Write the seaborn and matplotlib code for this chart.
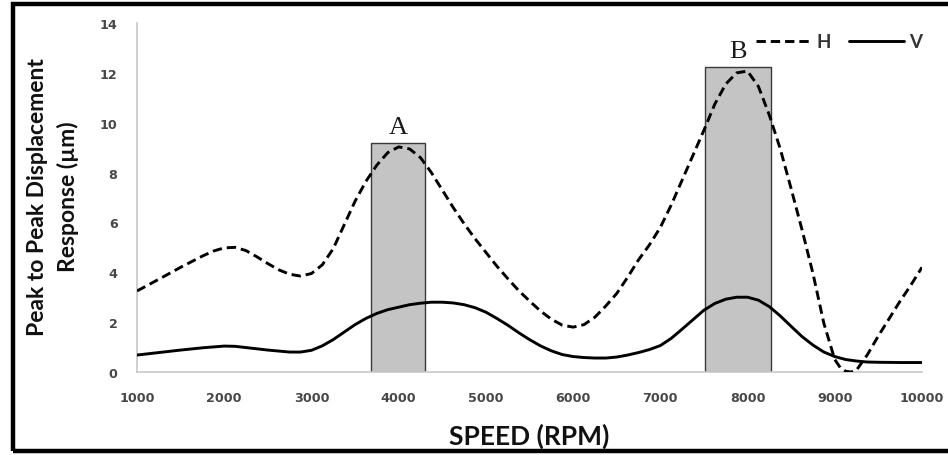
import numpy as np
import pandas as pd
import matplotlib
matplotlib.use("Agg")
import matplotlib.pyplot as plt
from matplotlib.lines import Line2D
from matplotlib.patches import Rectangle
import seaborn as sns

# ---------------- data ----------------
h_speed = [1000, 1250, 1500, 1750, 1875, 2000, 2125, 2250, 2375, 2500,
           2625, 2750, 2875, 3000, 3125, 3250, 3375, 3500, 3625, 3750,
           3875, 4000, 4125, 4250, 4375, 4500, 4625, 4750, 4875, 5000,
           5125, 5250, 5375, 5500, 5625, 5750, 5875, 6000, 6125, 6250,
           6375, 6500, 6625, 6750, 6875, 7000, 7125, 7250, 7375, 7500,
           7625, 7750, 7875, 8000, 8125, 8250, 8375, 8500, 8625, 8750,
           8875, 9000, 9062, 9125, 9187, 9250, 9375, 9500, 9625, 9750,
           9875, 10000]
h_resp = [3.25, 3.72, 4.2, 4.65, 4.85, 4.98, 5.0, 4.87, 4.62, 4.35,
          4.1, 3.92, 3.85, 3.95, 4.3, 4.95, 5.9, 6.85, 7.65, 8.3,
          8.8, 9.03, 8.95, 8.6, 8.0, 7.3, 6.6, 5.95, 5.35, 4.8,
          4.25, 3.75, 3.27, 2.85, 2.45, 2.12, 1.88, 1.8, 1.9, 2.2,
          2.65, 3.15, 3.8, 4.5, 5.1, 5.8, 6.7, 7.7, 8.7, 9.7,
          10.75, 11.55, 12.0, 12.07, 11.45, 10.3, 8.95, 7.35, 5.7, 3.95,
          1.95, 0.5, 0.18, 0.03, 0.0, 0.08, 0.7, 1.45, 2.15, 2.85,
          3.5, 4.2]

v_speed = [1000, 1250, 1500, 1750, 2000, 2125, 2250, 2500, 2750, 2875,
           3000, 3125, 3250, 3375, 3500, 3625, 3750, 3875, 4000, 4125,
           4250, 4375, 4500, 4625, 4750, 4875, 5000, 5125, 5250, 5375,
           5500, 5625, 5750, 5875, 6000, 6125, 6250, 6375, 6500, 6625,
           6750, 6875, 7000, 7125, 7250, 7375, 7500, 7625, 7750, 7875,
           8000, 8125, 8250, 8375, 8500, 8625, 8750, 8875, 9000, 9125,
           9250, 9375, 9500, 9750, 10000]
v_resp = [0.68, 0.78, 0.88, 0.97, 1.04, 1.03, 0.98, 0.88, 0.8, 0.8,
          0.87, 1.05, 1.3, 1.6, 1.9, 2.15, 2.35, 2.5, 2.6, 2.7,
          2.76, 2.8, 2.8, 2.77, 2.7, 2.58, 2.4, 2.15, 1.88, 1.58,
          1.3, 1.05, 0.85, 0.7, 0.62, 0.58, 0.56, 0.56, 0.6, 0.68,
          0.78, 0.9, 1.06, 1.35, 1.72, 2.1, 2.48, 2.75, 2.92, 3.0,
          3.0, 2.88, 2.62, 2.25, 1.83, 1.42, 1.08, 0.8, 0.62, 0.5,
          0.44, 0.4, 0.39, 0.38, 0.38]

zone_labels = ["A", "B"]
zone_start = [3680, 7510]
zone_end = [4300, 8265]
zone_height = [9.2, 12.25]

x_ticks = [1000, 2000, 3000, 4000, 5000, 6000, 7000, 8000, 9000, 10000]
y_ticks = [0, 2, 4, 6, 8, 10, 12, 14]

df = pd.DataFrame({"speed": h_speed + v_speed,
                   "resp": h_resp + v_resp,
                   "series": ["H"] * len(h_speed) + ["V"] * len(v_speed)})

# ---------------- style ----------------
sns.set_theme(style="white")
plt.rcParams["font.family"] = ["Lato", "DejaVu Sans"]

fig = plt.figure(figsize=(9.48, 4.56), dpi=100)
ax = fig.add_axes([137 / 948, 1 - 373 / 456, (922 - 137) / 948, (373 - 24) / 456])

# highlight zones
for lab, s, e, hgt in zip(zone_labels, zone_start, zone_end, zone_height):
    ax.bar(s, hgt, width=e - s, align="edge", color="#c4c4c4",
           edgecolor="#3a3a3a", linewidth=1.0, zorder=1)
    ax.text((s + e) / 2, hgt + 0.2, lab, ha="center", va="bottom",
            fontsize=19, family=["Liberation Serif"], color="#1a1a1a", zorder=4)

dash = (3.2, 1.7)
lw = 2.1
sns.lineplot(data=df[df.series == "H"], x="speed", y="resp", ax=ax,
             color="black", linewidth=lw, legend=False, zorder=3)
ax.lines[-1].set_dashes(dash)
sns.lineplot(data=df[df.series == "V"], x="speed", y="resp", ax=ax,
             color="black", linewidth=lw, legend=False, zorder=3)

ax.set_xlim(1000, 10000)
ax.set_ylim(0, 14)
ax.set_xticks(x_ticks)
ax.set_yticks(y_ticks)
ax.set_xticklabels([str(t) for t in x_ticks])
ax.set_yticklabels([str(t) for t in y_ticks])
ax.tick_params(axis="both", length=0, labelcolor="#474747")
ax.tick_params(axis="x", pad=14)
ax.tick_params(axis="y", pad=14)
for lab in ax.get_xticklabels() + ax.get_yticklabels():
    lab.set_fontweight("bold")
    lab.set_fontfamily(["DejaVu Sans"])
    lab.set_fontsize(9.2)

for side in ["top", "right"]:
    ax.spines[side].set_visible(False)
for side in ["left", "bottom"]:
    ax.spines[side].set_color("#c8c8c8")
    ax.spines[side].set_linewidth(1.2)

ax.set_xlabel("SPEED (RPM)", fontsize=19, fontweight="bold", color="#111111")
ax.xaxis.label.set_va("center")
ax.xaxis.set_label_coords(0.5, (373 - 436) / 349)
ax.set_ylabel("Peak to Peak Displacement\nResponse (µm)", fontsize=16.5,
              fontweight="bold", color="#111111", linespacing=1.5)
ax.yaxis.label.set_va("center")
ax.yaxis.set_label_coords((53 - 137) / 785, 0.504)

handles = [Line2D([0], [0], color="black", linewidth=lw, dashes=dash),
           Line2D([0], [0], color="black", linewidth=lw)]
leg = ax.legend(handles, ["H", "V"], ncol=2, frameon=False, loc="upper right",
                bbox_to_anchor=(1.017, 1.008), handlelength=2.9, handletextpad=0.3,
                columnspacing=1.0, borderpad=0.2, prop={"weight": "bold", "size": 13.5})
for t in leg.get_texts():
    t.set_color("#333333")

# outer frame
fig.patches.append(Rectangle((13 / 948, 4 / 456), 1.2, 447 / 456, transform=fig.transFigure,
                             fill=False, edgecolor="black", linewidth=3.2, zorder=10))

fig.savefig("out.png", dpi=100)
